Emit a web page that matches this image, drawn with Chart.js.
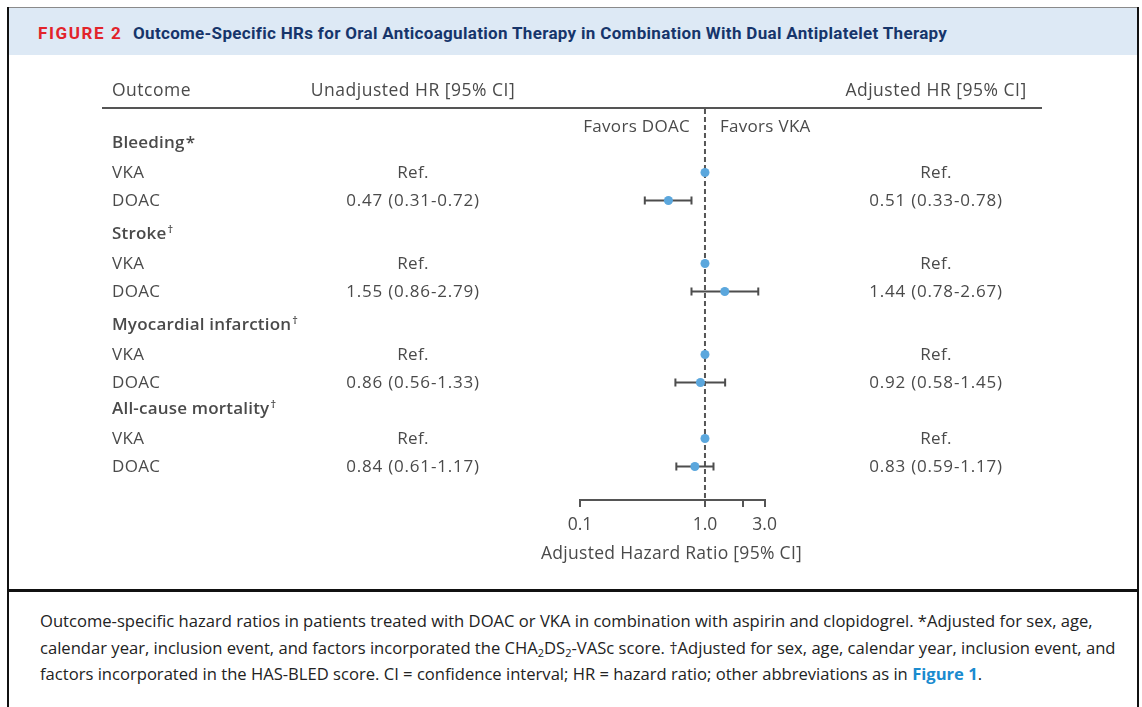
<!DOCTYPE html>
<html>
<head>
<meta charset="utf-8">
<script src="https://cdn.jsdelivr.net/npm/chart.js@4/dist/chart.umd.min.js"></script>
<style>
  html, body { margin: 0; padding: 0; background: #fff; }
  body { width: 1142px; height: 707px; position: relative; overflow: hidden; font-family: "Open Sans", sans-serif; }
  #topline { position: absolute; left: 8px; top: 7px; width: 1131px; height: 1px; background: #8a8a8a; }
  #lborder { position: absolute; left: 7px; top: 7px; width: 2px; height: 700px; background: #111; }
  #rborder { position: absolute; left: 1137px; top: 7px; width: 2px; height: 700px; background: #111; }
  #head { position: absolute; left: 9px; top: 8px; width: 1128px; height: 47px; background: #dde9f5; }
  #head span { position: absolute; top: 15px; font-family: "Liberation Sans Narrow", "Roboto", sans-serif; font-weight: bold; font-size: 17px; line-height: 20px; white-space: nowrap; }
  #fig { left: 29px; color: #e2232a; letter-spacing: 1.6px; }
  #ttl { left: 124px; color: #16356b; letter-spacing: 0.32px; }
  #sep { position: absolute; left: 7px; top: 589px; width: 1132px; height: 3px; background: #111; }
  #cap { position: absolute; left: 40px; top: 608px; font-size: 16.6px; line-height: 26.5px; color: #222; white-space: nowrap; }
  #cap sub { font-size: 11px; line-height: 0; vertical-align: -3px; }
  #cap b { color: #1a8bcf; }
  #wrap { position: absolute; left: 0; top: 0; width: 1142px; height: 590px; }
</style>
</head>
<body>
<div id="head"><span id="fig">FIGURE 2</span><span id="ttl">Outcome-Specific HRs for Oral Anticoagulation Therapy in Combination With Dual Antiplatelet Therapy</span></div>
<div id="topline"></div>
<div id="lborder"></div>
<div id="rborder"></div>
<div id="sep"></div>
<div id="cap">Outcome-specific hazard ratios in patients treated with DOAC or VKA in combination with aspirin and clopidogrel. *Adjusted for sex, age,<br>calendar year, inclusion event, and factors incorporated the CHA<sub>2</sub>DS<sub>2</sub>-VASc score. †Adjusted for sex, age, calendar year, inclusion event, and<br>factors incorporated in the HAS-BLED score. CI = confidence interval; HR = hazard ratio; other abbreviations as in <b>Figure 1</b>.</div>
<div id="wrap"><canvas id="chart"></canvas></div>
<script>
const outcomes = ['Bleeding', 'Stroke', 'Myocardial infarction', 'All-cause mortality'];
const marks = ['*', '†', '†', '†'];
const groups = ['VKA', 'DOAC'];
const refHR = 1.0;
const unadjHR = [0.47, 1.55, 0.86, 0.84];
const unadjLo = [0.31, 0.86, 0.56, 0.61];
const unadjHi = [0.72, 2.79, 1.33, 1.17];
const adjHR = [0.51, 1.44, 0.92, 0.83];
const adjLo = [0.33, 0.78, 0.58, 0.59];
const adjHi = [0.78, 2.67, 1.45, 1.17];
const xTicks = [0.1, 1, 2, 3];
const xTickLabels = ['0.1', '1.0', '', '3.0'];
const xTitle = 'Adjusted Hazard Ratio [95% CI]';

const TEXT = '#4a4a4a';
const FONT = '"Open Sans", sans-serif';

// row layout (y units, 1 unit = one table row)
const gaps = [0, 1.25, 1.25, 1.0];
const headerPos = [], vkaPos = [], doacPos = [];
let pos = 0;
outcomes.forEach(function (o, i) {
  pos += gaps[i];
  headerPos.push(pos);
  vkaPos.push(pos + 1);
  doacPos.push(pos + 2);
  pos += 2;
});

function fmt(h, l, u) {
  return h.toFixed(2) + ' (' + l.toFixed(2) + '-' + u.toFixed(2) + ')';
}

const points = [];
outcomes.forEach(function (o, i) {
  points.push({ x: refHR, y: vkaPos[i] });
  points.push({ x: adjHR[i], y: doacPos[i] });
});

const ciSets = outcomes.map(function (o, i) {
  return {
    type: 'line',
    data: [{ x: adjLo[i], y: doacPos[i] }, { x: adjHi[i], y: doacPos[i] }],
    borderColor: '#4d4d4d',
    borderWidth: 2,
    pointStyle: 'line',
    rotation: 90,
    pointRadius: 4,
    pointBorderWidth: 2,
    pointBorderColor: '#4d4d4d',
    order: 2
  };
});

const tablePlugin = {
  id: 'table',
  beforeDatasetsDraw(chart) {
    const { ctx, chartArea, scales } = chart;
    const x1 = scales.x.getPixelForValue(refHR);
    ctx.save();
    ctx.strokeStyle = '#555';
    ctx.lineWidth = 2;
    ctx.setLineDash([5, 3]);
    ctx.beginPath();
    ctx.moveTo(x1, chartArea.top);
    ctx.lineTo(x1, chartArea.bottom);
    ctx.stroke();
    ctx.restore();
  },
  afterDraw(chart) {
    const { ctx, chartArea, scales } = chart;
    const y = scales.y;
    const x1 = scales.x.getPixelForValue(refHR);
    const colLabel = 112, colUnadj = 413, colAdj = 936;
    const dy0 = 0.5;
    ctx.save();
    ctx.fillStyle = TEXT;
    ctx.textBaseline = 'middle';

    // column header + rule
    const hy = chartArea.top - 18;
    ctx.font = '500 17.5px ' + FONT;
    ctx.letterSpacing = '0.5px';
    ctx.textAlign = 'left';
    ctx.fillText('Outcome', colLabel, hy);
    ctx.textAlign = 'center';
    ctx.fillText('Unadjusted HR [95% CI]', colUnadj, hy);
    ctx.fillText('Adjusted HR [95% CI]', colAdj, hy);
    ctx.fillStyle = '#555';
    ctx.fillRect(102, chartArea.top - 2, 940, 2);
    ctx.fillStyle = TEXT;

    // favors labels
    ctx.font = '17px ' + FONT;
    ctx.letterSpacing = '0.3px';
    ctx.textAlign = 'right';
    ctx.fillText('Favors DOAC', x1 - 15, chartArea.top + 18);
    ctx.textAlign = 'left';
    ctx.fillText('Favors VKA', x1 + 15, chartArea.top + 18);

    // axis title
    ctx.font = '500 17.5px ' + FONT;
    ctx.letterSpacing = '0.3px';
    ctx.textAlign = 'center';
    ctx.fillText(xTitle, 671.5, chartArea.bottom + 54);

    outcomes.forEach(function (o, i) {
      const py = y.getPixelForValue(headerPos[i]) - 1;
      ctx.textAlign = 'left';
      ctx.letterSpacing = '0.2px';
      ctx.font = '600 17px ' + FONT;
      ctx.fillText(o, colLabel, py);
      const w = ctx.measureText(o).width;
      if (marks[i] === '*') {
        ctx.fillText(marks[i], colLabel + w + 1, py);
      } else {
        ctx.font = '600 11px ' + FONT;
        ctx.fillText(marks[i], colLabel + w + 1, py - 5);
      }
      const vy = y.getPixelForValue(vkaPos[i]) + dy0;
      const dy = y.getPixelForValue(doacPos[i]) + dy0;
      ctx.font = '17px ' + FONT;
      ctx.letterSpacing = '0.3px';
      ctx.textAlign = 'left';
      ctx.fillText(groups[0], colLabel, vy);
      ctx.fillText(groups[1], colLabel, dy);
      ctx.textAlign = 'center';
      ctx.fillText('Ref.', colUnadj, vy);
      ctx.fillText('Ref.', colAdj, vy);
      ctx.letterSpacing = '0.8px';
      ctx.fillText(fmt(unadjHR[i], unadjLo[i], unadjHi[i]), colUnadj, dy);
      ctx.fillText(fmt(adjHR[i], adjLo[i], adjHi[i]), colAdj, dy);
    });
    ctx.restore();
  }
};

const chart = new Chart(document.getElementById('chart'), {
  type: 'scatter',
  data: {
    datasets: [{
      data: points,
      pointRadius: 4.5,
      pointHoverRadius: 4.5,
      backgroundColor: '#5ba7dd',
      borderWidth: 0,
      order: 0
    }].concat(ciSets)
  },
  options: {
    responsive: true,
    maintainAspectRatio: false,
    animation: false,
    layout: { padding: { left: 580, right: 377.4, top: 109, bottom: 0 } },
    plugins: { legend: { display: false }, tooltip: { enabled: false } },
    scales: {
      x: {
        type: 'logarithmic',
        min: 0.1,
        max: 3,
        afterBuildTicks: function (scale) {
          scale.ticks = xTicks.map(function (v) { return { value: v }; });
        },
        afterFit: function (scale) {
          scale.height = 90;
          scale.paddingLeft = 0;
          scale.paddingRight = 0;
        },
        grid: { drawOnChartArea: false, color: '#555', lineWidth: 2, tickLength: 7 },
        border: { color: '#555', width: 2 },
        ticks: {
          autoSkip: false,
          maxRotation: 0,
          padding: 8,
          color: TEXT,
          font: { family: FONT, size: 17.5 },
          callback: function (value) {
            const k = xTicks.indexOf(value);
            return k >= 0 ? xTickLabels[k] : '';
          }
        },
        title: { display: false }
      },
      y: {
        type: 'linear',
        display: false,
        reverse: true,
        min: -1.268,
        max: 12.696
      }
    }
  },
  plugins: [tablePlugin]
});
</script>
</body>
</html>
